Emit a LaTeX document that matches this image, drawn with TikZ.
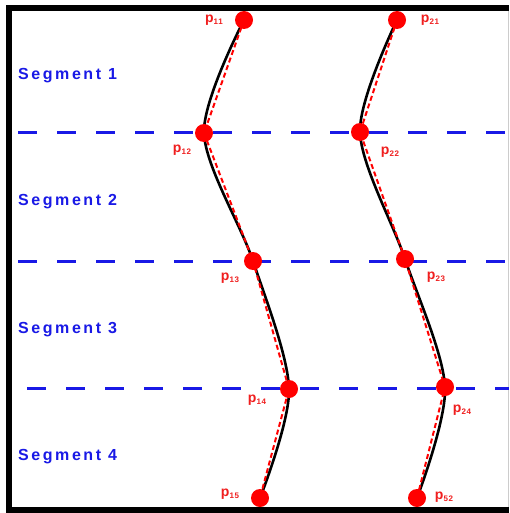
\documentclass[tikz,border=0pt]{standalone}
\usepackage{fontspec}
\setmainfont{Liberation Sans}
\newfontfamily\segfam[LetterSpace=16]{Liberation Sans}
\newfontfamily\ptfam[LetterSpace=8]{Liberation Sans}
\definecolor{segblue}{RGB}{25,25,230}
\definecolor{ptred}{RGB}{255,0,0}
\definecolor{labred}{RGB}{240,30,30}
\newcommand\plab[1]{p\raisebox{-1.8pt}{\fontsize{8}{8}\selectfont #1}}
\tikzset{
  sepline/.style={segblue, line width=3pt, dash pattern=on 19pt off 20pt},
  seglabel/.style={anchor=west, inner sep=0pt, text=segblue, font={\segfam\bfseries\fontsize{16}{19}\selectfont}},
  curve/.style={black, line width=2.6pt},
  chord/.style={ptred, line width=2pt, dash pattern=on 5pt off 3pt},
  ptdot/.style={circle, fill=ptred, minimum size=18pt, inner sep=0pt},
  ptlabel/.style={inner sep=0pt, text=labred, font={\ptfam\bfseries\fontsize{14}{16}\selectfont}},
  framebar/.style={fill=black},
}
\begin{document}
\begin{tikzpicture}[x=1pt,y=-1pt]
\useasboundingbox (0,0) rectangle (509,513);
\fill[white] (0,0) rectangle (509,513);
% frame
\fill[framebar] (6,5) rectangle (12,513);
\fill[framebar] (6,5) rectangle (509,11);
\fill[framebar] (6,507) rectangle (509,513);
\draw[black!20, line width=0.8pt] (508,11) -- (508,507);
% separators
\coordinate (l1a) at (18,133); \coordinate (l1b) at (509,133);
\coordinate (l2a) at (18,261); \coordinate (l2b) at (509,261);
\coordinate (l3a) at (27,388); \coordinate (l3b) at (509,388);
\draw[sepline] (l1a) -- (l1b);
\draw[sepline] (l2a) -- (l2b);
\draw[sepline] (l3a) -- (l3b);
% segment labels
\node[seglabel] (s1) at (18,76) {Segment 1};
\node[seglabel] (s2) at (18,202) {Segment 2};
\node[seglabel] (s3) at (18,330) {Segment 3};
\node[seglabel] (s4) at (18,457) {Segment 4};
% points
\coordinate (c11) at (244,20);
\coordinate (c12) at (204,133);
\coordinate (c13) at (253,261);
\coordinate (c14) at (289,389);
\coordinate (c15) at (260,498);
\coordinate (c21) at (397,20);
\coordinate (c22) at (360,132);
\coordinate (c23) at (405,259);
\coordinate (c24) at (445,387);
\coordinate (c25) at (417,498);
% curves
\draw[curve] plot[smooth, tension=0.5] coordinates {(c11) (c12) (c13) (c14) (c15)};
\draw[curve] plot[smooth, tension=0.5] coordinates {(c21) (c22) (c23) (c24) (c25)};
% chords
\draw[chord] (c11) -- (c12) -- (c13) -- (c14) -- (c15);
\draw[chord] (c21) -- (c22) -- (c23) -- (c24) -- (c25);
% dots
\foreach \n in {11,12,13,14,15,21,22,23,24,25}
  \node[ptdot] (p\n) at (c\n) {};
% labels
\node[ptlabel] (t11) at (214,20) {\plab{11}};
\node[ptlabel] (t12) at (182,150) {\plab{12}};
\node[ptlabel] (t13) at (230,278) {\plab{13}};
\node[ptlabel] (t14) at (257,400) {\plab{14}};
\node[ptlabel] (t15) at (230,494) {\plab{15}};
\node[ptlabel] (t21) at (430,20) {\plab{21}};
\node[ptlabel] (t22) at (390,152) {\plab{22}};
\node[ptlabel] (t23) at (436,277) {\plab{23}};
\node[ptlabel] (t24) at (462,410) {\plab{24}};
\node[ptlabel] (t25) at (444,497) {\plab{52}};
\end{tikzpicture}
\end{document}
